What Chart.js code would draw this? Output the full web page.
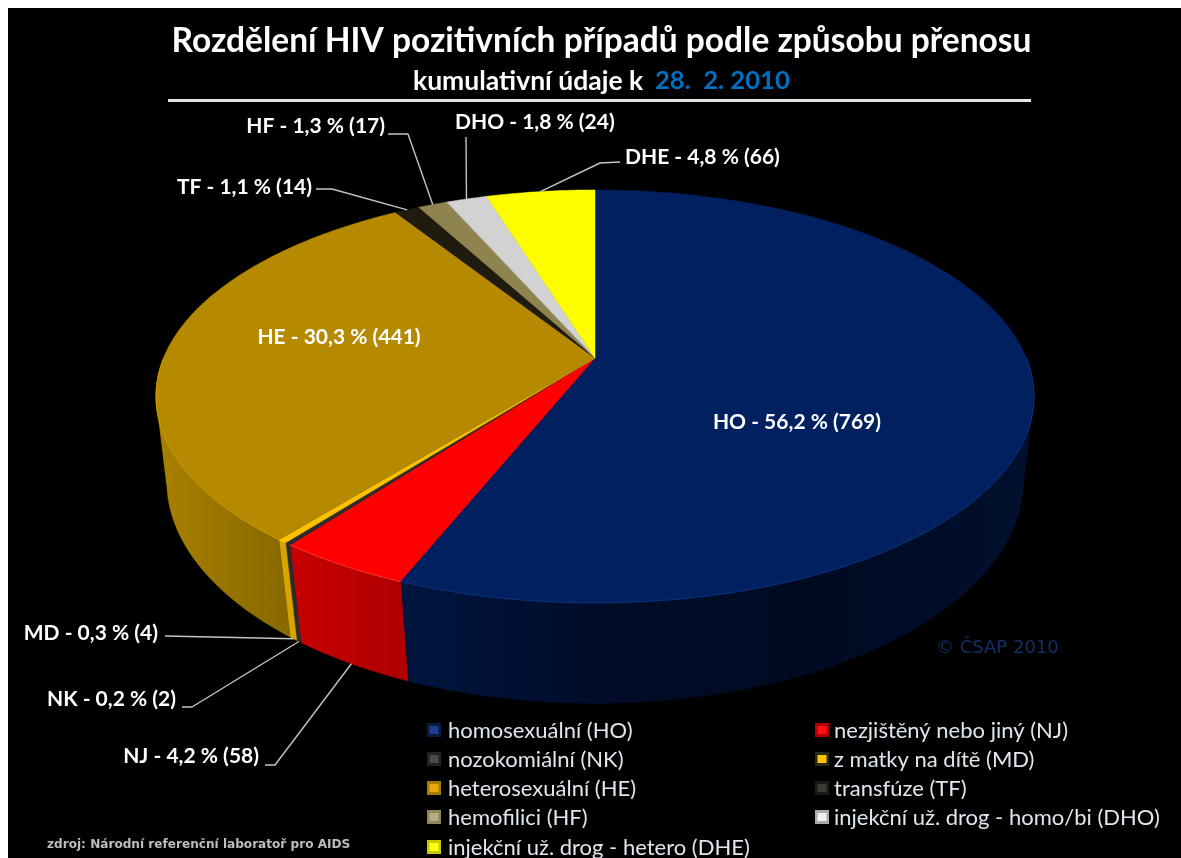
<!DOCTYPE html>
<html lang="cs"><head><meta charset="utf-8">
<style>html,body{margin:0;padding:0;background:#fff;overflow:hidden}canvas{display:block}</style>
<script src="https://cdn.jsdelivr.net/npm/chart.js@4/dist/chart.umd.min.js"></script>
</head><body><canvas id="c" width="1181" height="858"></canvas>
<script>
// ---- data ----
const codes = ['HO','NJ','NK','MD','HE','TF','HF','DHO','DHE'];
const percents = [56.2,4.2,0.2,0.3,30.3,1.1,1.3,1.8,4.8];
const counts = [769,58,2,4,441,14,17,24,66];
const percentLabels = ['56,2','4,2','0,2','0,3','30,3','1,1','1,3','1,8','4,8'];
const legendNames = ['homosexuální (HO)','nezjištěný nebo jiný (NJ)','nozokomiální (NK)','z matky na dítě (MD)','heterosexuální (HE)','transfúze (TF)','hemofilici (HF)','injekční už. drog - homo/bi (DHO)','injekční už. drog - hetero (DHE)'];
const legendCodes = ['HO','NJ','NK','MD','HE','TF','HF','DHO','DHE'];
// ---- styles ----
const topColors = ['#002060','#ff0000','#2b2b2b','#ffc000','#b58900','#1f1b0f','#8f8450','#d2d2d2','#ffff00'];
const rimColors = ['#0a3480','#ff3030','#444444','#ffc000','#c99a00','#2b2618','#9c9160','#dddddd','#ffff30'];
const wallStops = [['#00153f','#000c28','#000a22','#00102e'],['#c80000','#b00000'],['#2b2b2b','#2b2b2b'],['#d9a400','#d9a400'],['#a98000','#8a6a00'],['#1f1b0f','#1f1b0f'],['#8f8450','#8f8450'],['#d2d2d2','#d2d2d2'],['#ffff00','#ffff00']];
const markerOuter = ['#0b1a38','#b00000','#222222','#2a2a14','#a67c00','#1a1a14','#8d8660','#aaaaaa','#c8c800'];
const markerInner = ['#1c3f94','#ff1010','#4a4a4a','#ffc400','#e8aa10','#3a3a30','#b8ad80','#f0f0f0','#ffff10'];
const FONT = 'Lato, "Open Sans", sans-serif';
// projection of the pie's circle on the page: top face and lower edge of the wall
const topFace = {cx:595, cy:358, rx:431.3, ry:199.3, p:0.186};
const lowFace = {cx:595, cy:443, rx:422, ry:216, p:0.17};
function project(a, lower){
  const f=lower?lowFace:topFace, u=Math.cos(a), v=Math.sin(a), w=1-f.p*v;
  return {x:f.cx+f.rx*u/w, y:f.cy+f.ry*v/w};
}
function steps(a0,a1){const n=Math.max(2,Math.ceil((a1-a0)/0.01));const r=[];for(let i=0;i<=n;i++)r.push(a0+(a1-a0)*i/n);return r;}

// label placement: text anchor, then leader path to the slice
const sliceLabels = {
  HO:{x:797,y:422,align:'center'},
  HE:{x:339,y:337,align:'center'},
  NJ:{x:259,y:756,align:'right',bend:[[265,765],[275,765]],lower:true},
  NK:{x:176,y:699,align:'right',bend:[[182,707],[192,707]],lower:true},
  MD:{x:158,y:633,align:'right',bend:[[165,636]],lower:true},
  TF:{x:312,y:187,align:'right',bend:[[316,189],[332,189]]},
  HF:{x:385,y:126,align:'right',bend:[[388,134],[408,134]]},
  DHO:{x:455,y:122,align:'left',bend:[[466,137]]},
  DHE:{x:625,y:157,align:'left',bend:[[620,162],[600,163]]}
};
const legendRows = [731,760,789,818,848];
const legendCols = [{mark:427,text:448},{mark:815,text:834}];
// the wall is split where the face's outline turns away from the viewer
const wallBreaks = [-0.35,0.187,Math.PI-0.187,Math.PI+0.35];

function drawText(ctx,str,x,y,font,color,align){ctx.font=font;ctx.fillStyle=color;ctx.textAlign=align||'left';ctx.textBaseline='middle';ctx.fillText(str,x,y);}

const pie3d = {
  id:'pie3d',
  beforeDraw(chart){const c=chart.ctx;c.save();c.fillStyle='#fff';c.fillRect(0,0,1181,858);c.fillStyle='#000';c.fillRect(8,8,1173,850);c.restore();},
  beforeDatasetDraw(){return false;},
  afterDatasetsDraw(chart){
    const ctx=chart.ctx, arcs=chart.getDatasetMeta(0).data;
    ctx.save();ctx.lineJoin='round';
    // walls: only the part of each slice that faces the viewer
    arcs.forEach((arc,i)=>{
      const lo0=Math.max(arc.startAngle,wallBreaks[0]), hi0=Math.min(arc.endAngle,wallBreaks[3]);
      if(hi0<=lo0)return;
      const xs=steps(lo0,hi0).map(a=>project(a,false).x);
      const x0=Math.min(...xs),x1=Math.max(...xs);
      const g=ctx.createLinearGradient(x0,0,Math.max(x1,x0+1),0);
      wallStops[i].forEach((col,k,all)=>g.addColorStop(k/(all.length-1),col));
      ctx.fillStyle=g;ctx.strokeStyle=g;ctx.lineWidth=0.5;
      for(let b=0;b<wallBreaks.length-1;b++){
        const lo=Math.max(lo0,wallBreaks[b]), hi=Math.min(hi0,wallBreaks[b+1]);
        if(hi<=lo)continue;
        const pts=steps(lo,hi);
        ctx.beginPath();
        pts.forEach((a,k)=>{const p=project(a,false);k?ctx.lineTo(p.x,p.y):ctx.moveTo(p.x,p.y);});
        pts.slice().reverse().forEach(a=>{const p=project(a,true);ctx.lineTo(p.x,p.y);});
        ctx.closePath();ctx.fill();ctx.stroke();
      }
    });
    // top faces
    arcs.forEach((arc,i)=>{
      ctx.beginPath();ctx.moveTo(topFace.cx,topFace.cy);
      steps(arc.startAngle,arc.endAngle).forEach(a=>{const p=project(a,false);ctx.lineTo(p.x,p.y);});
      ctx.closePath();ctx.fillStyle=topColors[i];ctx.strokeStyle=topColors[i];ctx.lineWidth=0.5;ctx.fill();ctx.stroke();
    });
    // rim highlight along the front edge
    arcs.forEach((arc,i)=>{
      const lo=Math.max(arc.startAngle,0), hi=Math.min(arc.endAngle,Math.PI);
      if(hi<=lo)return;
      ctx.beginPath();steps(lo,hi).forEach((a,k)=>{const p=project(a,false);k?ctx.lineTo(p.x,p.y):ctx.moveTo(p.x,p.y);});
      ctx.strokeStyle=rimColors[i];ctx.lineWidth=1;ctx.stroke();
    });
    // leaders
    ctx.strokeStyle='#c4c4c4';ctx.lineWidth=1.4;
    arcs.forEach((arc,i)=>{
      const L=sliceLabels[codes[i]];
      if(!L.bend)return;
      const end=project((arc.startAngle+arc.endAngle)/2,!!L.lower);
      ctx.beginPath();L.bend.forEach((q,k)=>k?ctx.lineTo(q[0],q[1]):ctx.moveTo(q[0],q[1]));ctx.lineTo(end.x,end.y);ctx.stroke();
    });
    // slice labels
    codes.forEach((code,i)=>{
      const L=sliceLabels[code];
      drawText(ctx,code+' - '+percentLabels[i]+' % ('+counts[i]+')',L.x,L.y,'bold 21px '+FONT,'#fff',L.align);
    });
    // title block
    drawText(ctx,'Rozdělení HIV pozitivních případů podle způsobu přenosu',601.5,41,'bold 33.5px '+FONT,'#fff','center');
    drawText(ctx,'kumulativní údaje k',413,81,'bold 26.5px '+FONT,'#fff','left');
    drawText(ctx,'28.  2. 2010',655,81,'bold 25.6px '+FONT,'#0070c0','left');
    ctx.fillStyle='#e4e4e4';ctx.fillRect(168,99,863,3);
    // legend
    legendCodes.forEach((code,i)=>{
      const idx=codes.indexOf(code), col=legendCols[i%2], y=legendRows[Math.floor(i/2)];
      ctx.fillStyle=markerOuter[idx];ctx.fillRect(col.mark,y-8,14,14);
      ctx.fillStyle=markerInner[idx];ctx.fillRect(col.mark+2.5,y-5,9,8);
      drawText(ctx,legendNames[i],col.text,y,'22px '+FONT,'#dfe6ee','left');
    });
    drawText(ctx,'© ČSAP 2010',936,648,'18px "DejaVu Sans", sans-serif','#122f66','left');
    drawText(ctx,'zdroj: Národní referenční laboratoř pro AIDS',47,845,'bold 12.1px "DejaVu Sans", sans-serif','#bdbdbd','left');
    ctx.restore();
  }
};

new Chart(document.getElementById('c'),{
  type:'pie',
  data:{labels:codes,datasets:[{data:percents,backgroundColor:topColors,borderWidth:0}]},
  options:{responsive:false,devicePixelRatio:1,animation:false,events:[],
    plugins:{legend:{display:false},tooltip:{enabled:false},title:{display:false}}},
  plugins:[pie3d]
});
</script></body></html>
